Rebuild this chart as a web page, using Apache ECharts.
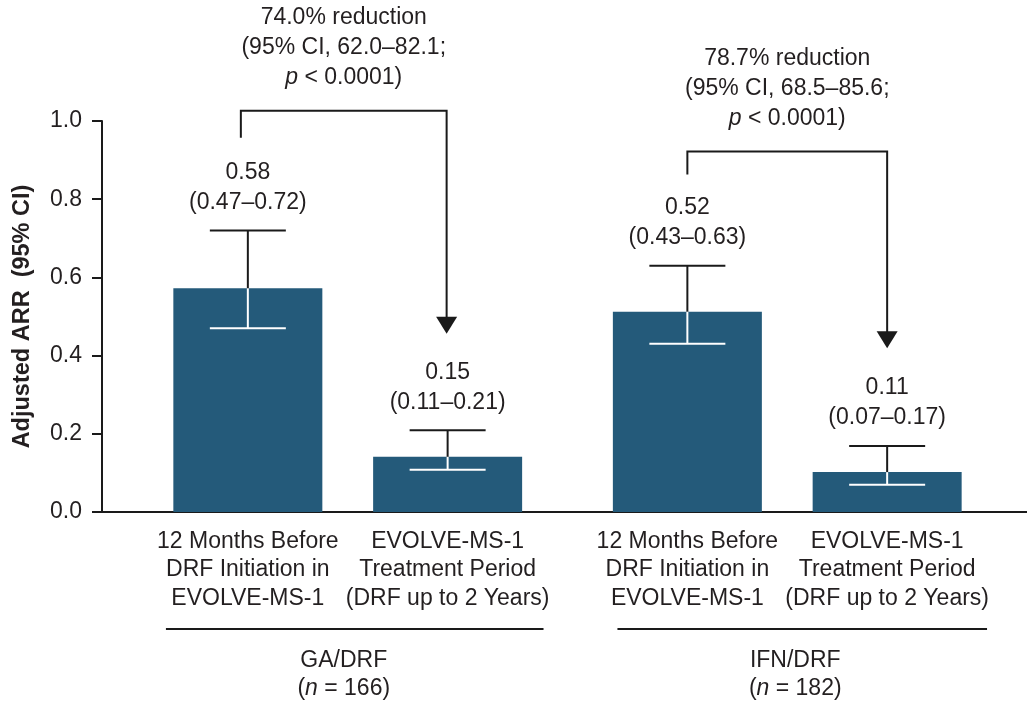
<!DOCTYPE html>
<html><head><meta charset="utf-8">
<script src="https://cdn.jsdelivr.net/npm/echarts@6/dist/echarts.min.js"></script>
<style>html,body{margin:0;padding:0;background:#fff}#c{width:1027px;height:701px}</style>
</head><body><div id="c"></div>
<script>
// ---- data ----
const categories = [
  '12 Months Before\nDRF Initiation in\nEVOLVE-MS-1',
  'EVOLVE-MS-1\nTreatment Period\n(DRF up to 2 Years)',
  '12 Months Before\nDRF Initiation in\nEVOLVE-MS-1',
  'EVOLVE-MS-1\nTreatment Period\n(DRF up to 2 Years)'
];
const xPos = [1, 2, 3.2, 4.2];
const arrValues = [0.572, 0.141, 0.512, 0.102];
const ciLow = [0.47, 0.108, 0.43, 0.07];
const ciHigh = [0.72, 0.209, 0.63, 0.169];
const valueLabels = ['0.58', '0.15', '0.52', '0.11'];
const ciLabels = ['(0.47–0.72)', '(0.11–0.21)', '(0.43–0.63)', '(0.07–0.17)'];
const yTickStep = 0.2;
const groupNames = ['GA/DRF', 'IFN/DRF'];
const groupN = ['166', '182'];
const groupCenter = [1.48, 3.74];
const groupSpanStart = [0.59, 2.85];
const groupSpanEnd = [2.48, 4.70];
const reductionPct = ['74.0%', '78.7%'];
const reductionCI = ['62.0–82.1', '68.5–85.6'];
const pValues = ['< 0.0001', '< 0.0001'];
const bracketLeft = [0.965, 3.2];
const bracketRight = [1.995, 4.2];
const bracketTop = [1.026, 0.922];
const bracketLegEnd = [0.957, 0.863];
const arrowTip = [0.456, 0.419];

// ---- chart ----
const FONT = "'Liberation Sans', Arial, Helvetica, sans-serif";
const TXT = '#231f20';
const LINE = '#1a1a1a';
const FS = 23;
const chart = echarts.init(document.getElementById('c'));

function rich(fs, lh) {
  return {
    n: { fontSize: fs, lineHeight: lh, fontFamily: FONT, fill: TXT, color: TXT },
    i: { fontSize: fs, lineHeight: lh, fontFamily: FONT, fill: TXT, color: TXT, fontStyle: 'italic' }
  };
}

chart.setOption({
  animation: false,
  grid: { left: 102, right: 0, top: 121, bottom: 189 },
  xAxis: {
    type: 'value', min: 0.27, max: 4.9,
    axisLine: { show: true, lineStyle: { color: LINE, width: 2 } },
    axisTick: { show: false },
    splitLine: { show: false },
    axisLabel: {
      customValues: xPos,
      formatter: v => categories[xPos.indexOf(v)] || '',
      fontSize: FS, lineHeight: 28.5, margin: 15, color: TXT, fontFamily: FONT, align: 'center'
    }
  },
  yAxis: {
    type: 'value', min: 0, max: 1, interval: yTickStep,
    name: 'Adjusted ARR  (95% CI)', nameLocation: 'middle', nameGap: 67,
    nameTextStyle: { fontSize: 23.5, fontWeight: 'bold', color: TXT, fontFamily: FONT },
    axisLine: { show: true, lineStyle: { color: LINE, width: 2 } },
    axisTick: { show: true, length: 10, lineStyle: { color: LINE, width: 2 } },
    splitLine: { show: false },
    axisLabel: { formatter: v => v.toFixed(1), fontSize: FS, margin: 20, color: TXT, fontFamily: FONT }
  },
  series: [
    {
      type: 'bar', barWidth: 149,
      data: xPos.map((x, i) => [x, arrValues[i]]),
      itemStyle: { color: '#245a7a' },
      z: 2
    },
    {
      type: 'custom', z: 5, clip: false,
      data: xPos.map((x, i) => [x, arrValues[i], ciLow[i], ciHigh[i]]),
      renderItem(params, api) {
        const i = params.dataIndex;
        const x = api.value(0);
        const top = api.coord([x, api.value(3)]);
        const mid = api.coord([x, api.value(1)]);
        const low = api.coord([x, api.value(2)]);
        const hw = 38;
        return {
          type: 'group', children: [
            { type: 'line', shape: { x1: top[0], y1: top[1], x2: mid[0], y2: mid[1] }, style: { stroke: LINE, lineWidth: 2 } },
            { type: 'line', shape: { x1: top[0] - hw, y1: top[1], x2: top[0] + hw, y2: top[1] }, style: { stroke: LINE, lineWidth: 2 } },
            { type: 'line', shape: { x1: mid[0], y1: mid[1], x2: low[0], y2: low[1] }, style: { stroke: '#ffffff', lineWidth: 2 } },
            { type: 'line', shape: { x1: low[0] - hw, y1: low[1], x2: low[0] + hw, y2: low[1] }, style: { stroke: '#ffffff', lineWidth: 2 } },
            { type: 'text', style: {
                text: valueLabels[i] + '\n' + ciLabels[i], x: top[0], y: top[1] - 13,
                align: 'center', verticalAlign: 'bottom',
                fontSize: FS, lineHeight: 30, fontFamily: FONT, fill: TXT } }
          ]
        };
      }
    },
    {
      type: 'custom', z: 5, clip: false,
      data: groupCenter.map((c, i) => [c, bracketTop[i]]),
      renderItem(params, api) {
        const i = params.dataIndex;
        const L = api.coord([bracketLeft[i], bracketTop[i]]);
        const R = api.coord([bracketRight[i], bracketTop[i]]);
        const legEnd = api.coord([bracketLeft[i], bracketLegEnd[i]]);
        const tip = api.coord([bracketRight[i], arrowTip[i]]);
        const s0 = api.coord([groupSpanStart[i], 0]);
        const s1 = api.coord([groupSpanEnd[i], 0]);
        const gc = api.coord([groupCenter[i], 0]);
        const ah = 17, aw = 10.5;
        return {
          type: 'group', children: [
            { type: 'polyline', shape: { points: [legEnd, L, R, [tip[0], tip[1] - ah + 1]] },
              style: { stroke: LINE, lineWidth: 2, fill: null, lineJoin: 'miter' } },
            { type: 'polygon', shape: { points: [[tip[0] - aw, tip[1] - ah], [tip[0] + aw, tip[1] - ah], [tip[0], tip[1]]] },
              style: { fill: LINE } },
            { type: 'text', style: {
                text: '{n|' + reductionPct[i] + ' reduction}\n{n|(95% CI, ' + reductionCI[i] + ';}\n{i|p}{n| ' + pValues[i] + ')}',
                x: (L[0] + R[0]) / 2, y: L[1] - 18, align: 'center', verticalAlign: 'bottom',
                fontSize: FS, lineHeight: 30, fontFamily: FONT, fill: TXT, rich: rich(FS, 30) } },
            { type: 'line', shape: { x1: s0[0], y1: s0[1] + 117, x2: s1[0], y2: s1[1] + 117 },
              style: { stroke: LINE, lineWidth: 2 } },
            { type: 'text', style: {
                text: '{n|' + groupNames[i] + '}\n{n|(}{i|n}{n| = ' + groupN[i] + ')}',
                x: gc[0], y: gc[1] + 134, align: 'center', verticalAlign: 'top',
                fontSize: FS, lineHeight: 28.5, fontFamily: FONT, fill: TXT, rich: rich(FS, 28.5) } }
          ]
        };
      }
    }
  ]
});
</script>
</body></html>
